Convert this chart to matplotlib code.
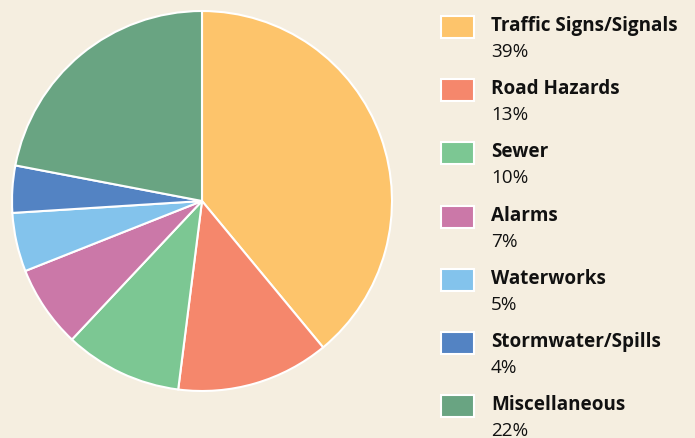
import matplotlib
matplotlib.use("Agg")
import matplotlib.pyplot as plt
from matplotlib.patches import Rectangle

categories = ["Traffic Signs/Signals", "Road Hazards", "Sewer", "Alarms",
              "Waterworks", "Stormwater/Spills", "Miscellaneous"]
values = [39, 13, 10, 7, 5, 4, 22]
colors = ["#FDC46B", "#F5876C", "#7CC793", "#CB78A8", "#83C3EC", "#5383C3", "#69A482"]
bg = "#F5EEE0"

W, H = 695, 438
fig = plt.figure(figsize=(W / 100, H / 100), dpi=100, facecolor=bg)

# pie axes: center (202, 201) px, radius 190 px
cx, cy, r = 202, 201, 190
ax = fig.add_axes([(cx - r) / W, (H - cy - r) / H, 2 * r / W, 2 * r / H])
ax.set_facecolor(bg)
ax.pie(values, colors=colors, startangle=90, counterclock=False,
       wedgeprops=dict(edgecolor="white", linewidth=1.5), radius=1.0)
ax.set_xlim(-1.0, 1.0)
ax.set_ylim(-1.0, 1.0)
ax.set_aspect("equal")
ax.axis("off")

# overlay for legend, pixel coordinates
lax = fig.add_axes([0, 0, 1, 1], zorder=5)
lax.set_xlim(0, W)
lax.set_ylim(H, 0)
lax.axis("off")
lax.patch.set_alpha(0)

step = 63.2
for i, (cat, val, col) in enumerate(zip(categories, values, colors)):
    yc = 27 + i * step
    lax.add_patch(Rectangle((441, yc - 11), 33, 22, facecolor=col,
                            edgecolor="white", linewidth=1.5))
    lax.text(491, yc - 1, cat, fontsize=13.6, fontweight="bold", family="Open Sans",
             color="#111111", va="center", ha="left")
    lax.text(491, yc + 25, f"{val}%", fontsize=13.6, family="Open Sans",
             color="#111111", va="center", ha="left")

fig.savefig("out.png", dpi=100, facecolor=bg)
